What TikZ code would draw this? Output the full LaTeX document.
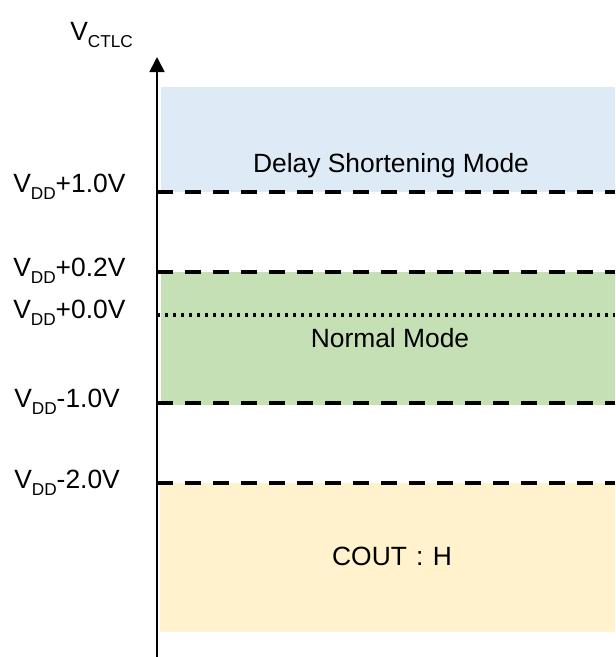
\documentclass[tikz,border=0pt]{standalone}
\usepackage{fontspec}
\setmainfont{Liberation Sans}
\usetikzlibrary{arrows.meta}
\newcommand\mysub[1]{\raisebox{-5.25pt}{\fontsize{12.9}{14}\selectfont #1}}
\definecolor{bandblue}{HTML}{DEEBF7}
\definecolor{bandgreen}{HTML}{C5E0B4}
\definecolor{bandyellow}{HTML}{FFF2CC}
\tikzset{
  lvl/.style={anchor=base west, inner sep=0pt, font=\fontsize{19.8}{22}\selectfont},
  modetxt/.style={anchor=base, inner sep=0pt, font=\fontsize{19.8}{22}\selectfont},
  dashlvl/.style={line width=2.4pt, dash pattern=on 12pt off 9pt},
  dotlvl/.style={line width=2.4pt, dash pattern=on 2.6pt off 3.4pt},
  axisline/.style={line width=1.3pt, -{Triangle[width=11.25pt,length=11.25pt]}}
}
\begin{document}
\begin{tikzpicture}[x=0.75pt,y=-0.75pt]
\useasboundingbox (0,0) rectangle (615,657);
% bands
\fill[bandblue] (161,87) rectangle (615,192);
\fill[bandgreen] (161,272) rectangle (615,405);
\fill[bandyellow] (160,483) rectangle (615,632);
% level coordinates
\coordinate (l1a) at (157,192); \coordinate (l1b) at (615,192);
\coordinate (l2a) at (157,272); \coordinate (l2b) at (615,272);
\coordinate (l3a) at (157,315); \coordinate (l3b) at (615,315);
\coordinate (l4a) at (157,403); \coordinate (l4b) at (615,403);
\coordinate (l5a) at (157,483); \coordinate (l5b) at (615,483);
\draw[dashlvl] (l1a) -- (l1b);
\draw[dashlvl] (l2a) -- (l2b);
\draw[dotlvl] (l3a) -- (l3b);
\draw[dashlvl] (l4a) -- (l4b);
\draw[dashlvl] (l5a) -- (l5b);
% axis
\coordinate (axbot) at (157,657);
\coordinate (axtop) at (157,57);
\draw[axisline] (axbot) -- (axtop);
% axis label
\node[lvl] (vctlc) at (70,40) {V\mysub{CTLC}};
% level labels
\node[lvl] (t1) at (13,192) {V\mysub{DD}+1.0V};
\node[lvl] (t2) at (13,276) {V\mysub{DD}+0.2V};
\node[lvl] (t3) at (13,318) {V\mysub{DD}+0.0V};
\node[lvl] (t4) at (14,407) {V\mysub{DD}-1.0V};
\node[lvl] (t5) at (14,488) {V\mysub{DD}-2.0V};
% mode texts
\node[modetxt] (m1) at (391,172) {Delay Shortening Mode};
\node[modetxt] (m2) at (390,347) {Normal Mode};
\node[modetxt] (m3) at (392,565) {COUT\hspace{0.35em}:\hspace{0.35em}H};
\end{tikzpicture}
\end{document}
